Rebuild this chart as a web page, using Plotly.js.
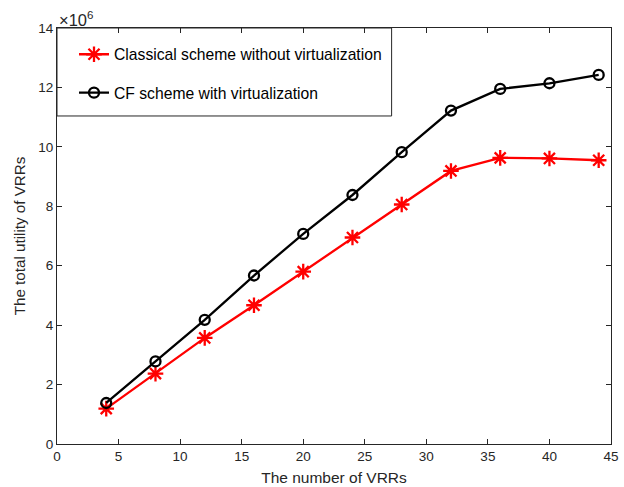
<!DOCTYPE html>
<html>
<head>
<meta charset="utf-8">
<script src="https://cdn.plot.ly/plotly-3.0.1.min.js"></script>
<style>html,body{margin:0;padding:0;background:#fff;}#chart{width:624px;height:487px;}</style>
</head>
<body>
<div id="chart"></div>
<script>
const vrrCounts = [4, 8, 12, 16, 20, 24, 28, 32, 36, 40, 44];
const classicalUtility = [1.19, 2.37, 3.57, 4.67, 5.80, 6.95, 8.06, 9.19, 9.63, 9.61, 9.55];
const cfUtility = [1.38, 2.78, 4.18, 5.67, 7.07, 8.38, 9.82, 11.22, 11.95, 12.14, 12.42];
const seriesNames = ["Classical scheme without virtualization", "CF scheme with virtualization"];
const xTicks = [0, 5, 10, 15, 20, 25, 30, 35, 40, 45];
const yTicks = [0, 2, 4, 6, 8, 10, 12, 14];
const scale = 1e6;

const axisColor = '#262626';
const data = [
  {
    x: vrrCounts, y: classicalUtility.map(v => v * scale), name: seriesNames[0],
    type: 'scatter', mode: 'lines+markers', legendgroup: 'a',
    line: {color: '#ff0000', width: 2.3},
    marker: {symbol: 'asterisk-open', size: 13, color: '#ff0000', line: {color: '#ff0000', width: 2.3}}
  },
  {
    x: vrrCounts, y: cfUtility.map(v => v * scale), name: seriesNames[1],
    type: 'scatter', mode: 'lines+markers', legendgroup: 'b',
    line: {color: '#000000', width: 2.3},
    marker: {symbol: 'circle-open', size: 10, color: '#000000', line: {color: '#000000', width: 2.3}}
  }
];
const layout = {
  width: 624, height: 487,
  margin: {l: 57, r: 13, t: 28, b: 43, pad: 0},
  paper_bgcolor: '#ffffff', plot_bgcolor: '#ffffff',
  font: {family: 'Liberation Sans, Arial, sans-serif', color: axisColor, size: 13.5},
  showlegend: true,
  legend: {
    x: 0, y: 0.977, xanchor: 'left', yanchor: 'top',
    borderwidth: 0, bgcolor: 'rgba(0,0,0,0)',
    font: {size: 15.7, color: '#000000'},
    traceorder: 'grouped', tracegroupgap: 15, indentation: 17,
    itemwidth: 30
  },
  shapes: [
    {type: 'rect', xref: 'paper', yref: 'paper', x0: 0, x1: 0.604, y0: 0.7885, y1: 1,
     line: {color: axisColor, width: 1}, fillcolor: '#ffffff', layer: 'below'}
  ],
  xaxis: {
    range: [0, 45], tickvals: xTicks, ticktext: xTicks.map(String),
    showgrid: false, zeroline: false, showline: true, linecolor: axisColor, linewidth: 1,
    mirror: 'ticks', ticks: 'inside', ticklen: 5, tickcolor: axisColor,
    tickfont: {size: 13.5, color: axisColor},
    title: {text: 'The number of VRRs', font: {size: 15.5, color: axisColor}, standoff: 8}
  },
  yaxis: {
    range: [0, 14 * scale], tickvals: yTicks.map(v => v * scale), ticktext: yTicks.map(String),
    showgrid: false, zeroline: false, showline: true, linecolor: axisColor, linewidth: 1,
    mirror: 'ticks', ticks: 'inside', ticklen: 5, tickcolor: axisColor,
    tickfont: {size: 13.5, color: axisColor},
    title: {text: 'The total utility of VRRs', font: {size: 15.2, color: axisColor}, standoff: 8}
  },
  annotations: [
    {xref: 'paper', yref: 'paper', x: 0, y: 1, xanchor: 'left', yanchor: 'bottom',
     yshift: -3, showarrow: false, text: '×10<sup>6</sup>', font: {size: 16.5, color: axisColor}}
  ]
};
Plotly.newPlot('chart', data, layout, {displayModeBar: false, staticPlot: true});
</script>
</body>
</html>
